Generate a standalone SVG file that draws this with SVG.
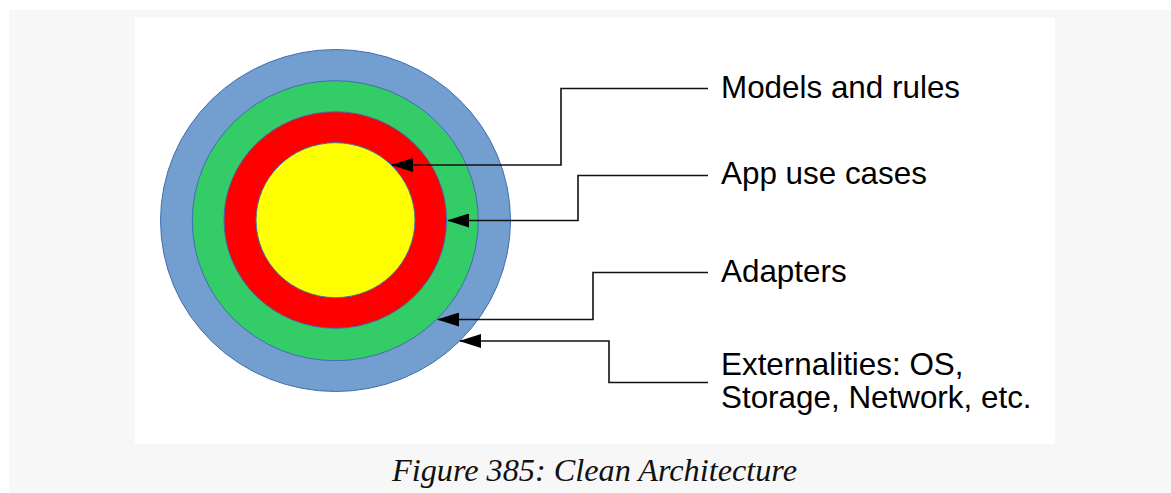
<svg xmlns="http://www.w3.org/2000/svg" width="1171" height="493" viewBox="0 0 1171 493">
  <style>
    .ring { stroke: #3f6fae; stroke-width: 1; }
    .label { font-family: "Liberation Sans", Arial, sans-serif; font-size: 31.4px; fill: #000; }
    .conn { fill: none; stroke: #111; stroke-width: 1.6; }
    .caption { font-family: "Liberation Serif", "Times New Roman", serif; font-style: italic; font-size: 32px; fill: #111; }
  </style>
  <defs>
    <marker id="arrow" viewBox="0 0 22 14" refX="21" refY="7" markerWidth="22" markerHeight="14" markerUnits="userSpaceOnUse" orient="auto">
      <path d="M0,0 L22,7 L0,14 Z" fill="#000"/>
    </marker>
  </defs>
  <rect x="0" y="0" width="1171" height="493" fill="#ffffff"/>
  <rect x="9" y="10" width="1162" height="483" fill="#f7f7f7"/>
  <rect x="135" y="18" width="920" height="426" fill="#ffffff"/>

  <g id="externalities">
    <ellipse class="ring" cx="335.5" cy="220.5" rx="175" ry="171" fill="#729fcf"/>
  </g>
  <g id="adapters">
    <ellipse class="ring" cx="335.3" cy="220.7" rx="143" ry="140" fill="#33cc66"/>
  </g>
  <g id="app-use-cases">
    <ellipse class="ring" cx="335.3" cy="220" rx="111.3" ry="108.3" fill="#ff0000"/>
  </g>
  <g id="models-and-rules">
    <ellipse class="ring" cx="335.5" cy="220.2" rx="79.5" ry="77.5" fill="#ffff00"/>
  </g>

  <g id="connectors">
    <path class="conn" d="M708,88.5 H561 V165 H392" marker-end="url(#arrow)"/>
    <path class="conn" d="M708,175.5 H578 V220.5 H448" marker-end="url(#arrow)"/>
    <path class="conn" d="M708,272.5 H593 V319.5 H438" marker-end="url(#arrow)"/>
    <path class="conn" d="M708,382.5 H609 V341 H460" marker-end="url(#arrow)"/>
  </g>

  <g id="label-models">
    <text class="label" x="721" y="98">Models and rules</text>
  </g>
  <g id="label-app">
    <text class="label" x="721" y="184">App use cases</text>
  </g>
  <g id="label-adapters">
    <text class="label" x="721" y="282">Adapters</text>
  </g>
  <g id="label-externalities">
    <text class="label" x="721" y="375">Externalities: OS,</text>
    <text class="label" x="721" y="408">Storage, Network, etc.</text>
  </g>

  <g id="caption">
    <text class="caption" x="392" y="481" textLength="405" lengthAdjust="spacingAndGlyphs">Figure 385: Clean Architecture</text>
  </g>
</svg>
